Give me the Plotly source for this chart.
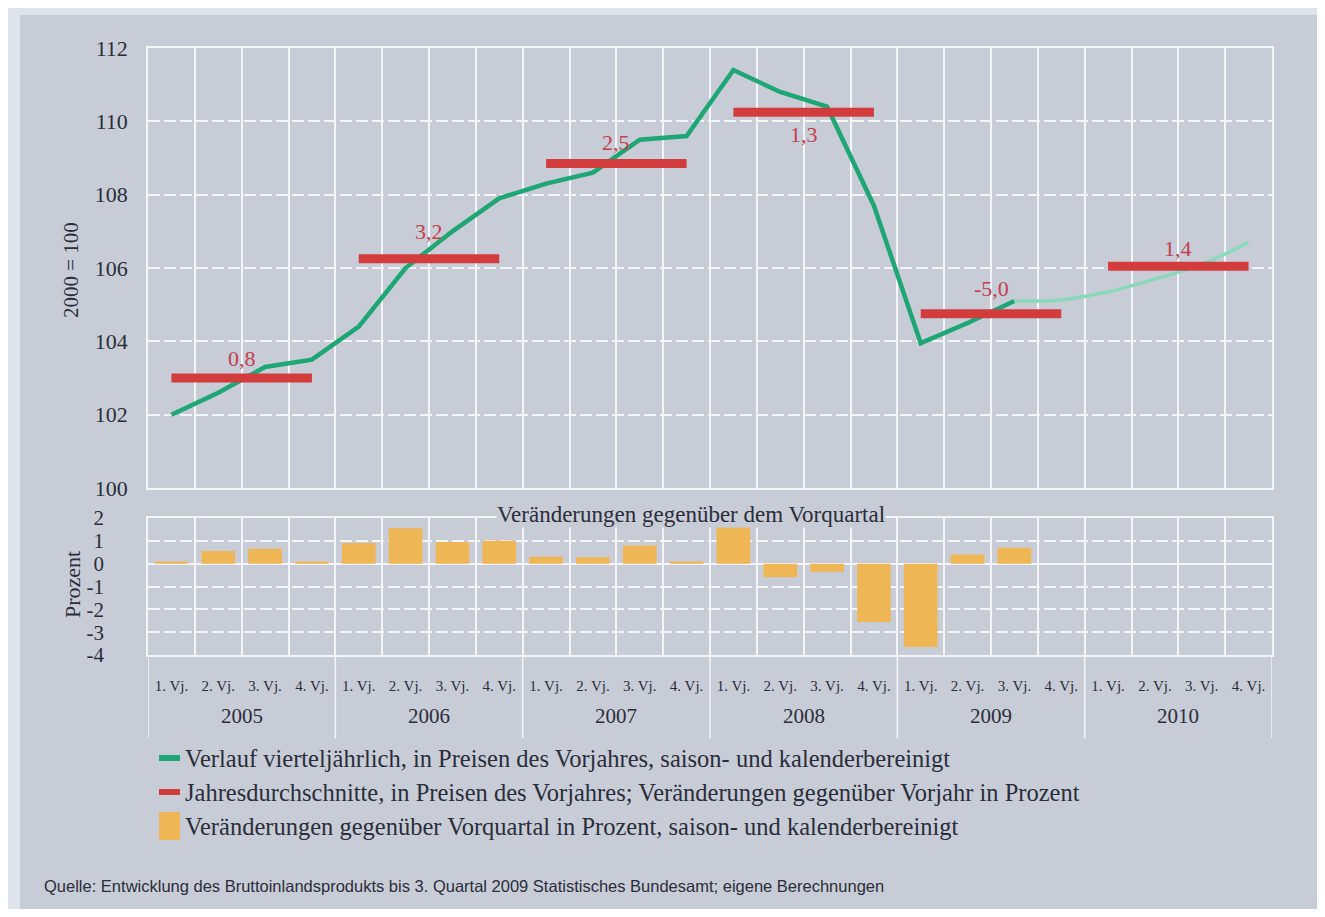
import plotly.graph_objects as go

# ── Daten ─────────────────────────────────────────────────────────
YEARS = ["2005", "2006", "2007", "2008", "2009", "2010"]
QUARTERS = ["1. Vj.", "2. Vj.", "3. Vj.", "4. Vj."] * 6

# BIP-Index (2000 = 100), 1. Vj. 2005 bis 3. Vj. 2009
gdp_index = [102.0, 102.6, 103.3, 103.5,
             104.4, 106.0, 107.0, 107.9,
             108.3, 108.6, 109.5, 109.6,
             111.4, 110.8, 110.4, 107.7,
             103.95, 104.5, 105.1]
# Prognose, 3. Vj. 2009 bis 4. Vj. 2010
gdp_forecast = [105.1, 105.13, 105.35, 105.7, 106.1, 106.7]

# Jahresdurchschnitte (Niveau) und Veränderung gegenüber Vorjahr
annual_level = [103.0, 106.25, 108.85, 110.25, 104.75, 106.05]
annual_change = ["0,8", "3,2", "2,5", "1,3", "-5,0", "1,4"]

# Veränderungen gegenüber Vorquartal in Prozent
qoq_change = [0.1, 0.55, 0.65, 0.1,
              0.9, 1.55, 0.95, 1.0,
              0.3, 0.28, 0.8, 0.1,
              1.6, -0.6, -0.35, -2.55,
              -3.65, 0.4, 0.7]

TOP_TICKS = [100, 102, 104, 106, 108, 110, 112]
BOTTOM_TICKS = [2, 1, 0, -1, -2, -3, -4]
BOTTOM_TICK_TEXT = ["2", "1", "0", "-1", "-2", "-3", "-4"]

LEGEND_TEXT = [
    "Verlauf vierteljährlich, in Preisen des Vorjahres, saison- und kalenderbereinigt",
    "Jahresdurchschnitte, in Preisen des Vorjahres; Veränderungen gegenüber Vorjahr in Prozent",
    "Veränderungen gegenüber Vorquartal in Prozent, saison- und kalenderbereinigt",
]
SOURCE = ("Quelle: Entwicklung des Bruttoinlandsprodukts bis 3. Quartal 2009 "
          "Statistisches Bundesamt; eigene Berechnungen")

# ── Stil ──────────────────────────────────────────────────────────
# Seite hat 8px Body-Rand -> Figur kleiner, Koordinaten um 8px verschoben
OFF = 8
W, H = 1325 - 2 * OFF, 917 - 2 * OFF
PANEL = "#c8ccd7"
GRID = "#f4f5f8"
GREEN = "#1ea673"
GREEN_LIGHT = "#8ad9b8"
RED = "#d23c3c"
RED_TEXT = "#c2404c"
ORANGE = "#efb655"
TEXT = "#2b2d3a"
SERIF = "Liberation Serif, DejaVu Serif, serif"


def px_x(p):
    return (p - OFF) / W


def px_y(p):
    return 1 - (p - OFF) / H


def note(x, y, text, size, xanchor="center", **kw):
    fig.add_annotation(x=px_x(x), y=px_y(y), xref="paper", yref="paper",
                       text=text, showarrow=False, xanchor=xanchor, yanchor="middle",
                       font=dict(family=kw.pop("family", SERIF), size=size, color=TEXT),
                       **kw)


x_dom = [px_x(148), px_x(1272)]
quarter_idx = list(range(len(QUARTERS)))
boundaries = [i - 0.5 for i in range(len(QUARTERS) + 1)]

fig = go.Figure()

# Verlauf vierteljährlich
fig.add_trace(go.Scatter(x=quarter_idx[:len(gdp_index)], y=gdp_index,
                         mode="lines", line=dict(color=GREEN, width=4.5),
                         xaxis="x", yaxis="y", showlegend=False))
fig.add_trace(go.Scatter(x=quarter_idx[len(gdp_index) - 1:], y=gdp_forecast,
                         mode="lines", line=dict(color=GREEN_LIGHT, width=3.5, shape="spline"),
                         xaxis="x", yaxis="y", showlegend=False))

# Jahresdurchschnitte
for k, lvl in enumerate(annual_level):
    fig.add_trace(go.Scatter(x=[4 * k, 4 * k + 3], y=[lvl, lvl], mode="lines",
                             line=dict(color=RED, width=9),
                             xaxis="x", yaxis="y", showlegend=False))

label_shift = [19, 27, 21, -22, 25, 18]
for k, (lvl, txt) in enumerate(zip(annual_level, annual_change)):
    fig.add_annotation(x=4 * k + 1.5, y=lvl, xref="x", yref="y", text=txt,
                       showarrow=False, yshift=label_shift[k],
                       xanchor="center", yanchor="middle",
                       font=dict(family=SERIF, size=22, color=RED_TEXT))

# Veränderungen gegenüber Vorquartal
fig.add_trace(go.Bar(x=quarter_idx[:len(qoq_change)], y=qoq_change,
                     marker=dict(color=ORANGE, line=dict(width=0)), width=0.72,
                     xaxis="x2", yaxis="y2", showlegend=False))

grid = dict(showgrid=True, gridcolor=GRID, gridwidth=1.5)
frame = dict(showline=True, mirror=True, linecolor=GRID, linewidth=1.5, automargin=False)
fig.update_layout(
    width=W, height=H,
    margin=dict(l=0, r=0, t=0, b=0, pad=0),
    paper_bgcolor="white",
    plot_bgcolor="rgba(0,0,0,0)",
    xaxis=dict(domain=x_dom, anchor="y", range=[-0.5, 23.5],
               tickvals=boundaries, showticklabels=False, ticks="",
               zeroline=False, **grid, **frame),
    yaxis=dict(domain=[px_y(488), px_y(48)], anchor="x", range=[100, 112],
               tickvals=TOP_TICKS, griddash="12px,4px", zeroline=False,
               ticks="outside", ticklen=14, tickcolor="rgba(0,0,0,0)",
               tickfont=dict(family=SERIF, size=22, color=TEXT), **grid, **frame),
    xaxis2=dict(domain=x_dom, anchor="y2", range=[-0.5, 23.5], matches="x",
                tickvals=quarter_idx, ticktext=QUARTERS, showgrid=False,
                ticks="outside", ticklen=16, tickcolor="rgba(0,0,0,0)",
                tickfont=dict(family=SERIF, size=15, color=TEXT),
                minor=dict(tickvals=boundaries, showgrid=True,
                           gridcolor=GRID, gridwidth=1.5, ticks=""),
                zeroline=False, **frame),
    yaxis2=dict(domain=[px_y(655), px_y(518)], anchor="x2", range=[-4, 2],
                tickvals=BOTTOM_TICKS, ticktext=BOTTOM_TICK_TEXT,
                griddash="12px,4px",
                zeroline=True, zerolinecolor=GRID, zerolinewidth=1.5,
                ticks="outside", ticklen=38, tickcolor="rgba(0,0,0,0)",
                tickfont=dict(family=SERIF, size=21, color=TEXT), **grid, **frame),
)

# Hintergrund-Panel
fig.add_shape(type="rect", xref="paper", yref="paper", layer="below",
              x0=px_x(8), x1=px_x(1322), y0=px_y(917), y1=px_y(8),
              fillcolor="#dfe3eb", line=dict(width=0))
fig.add_shape(type="rect", xref="paper", yref="paper", layer="below",
              x0=px_x(20), x1=px_x(1320), y0=px_y(913), y1=px_y(15),
              fillcolor=PANEL, line=dict(width=0))

# Jahrestrenner unter der Achse
for b in range(0, 25, 4):
    fig.add_shape(type="line", xref="x2", yref="paper",
                  x0=b - 0.5, x1=b - 0.5, y0=px_y(655), y1=px_y(738),
                  line=dict(color=GRID, width=1.5))
for k, yr in enumerate(YEARS):
    fig.add_annotation(x=4 * k + 1.5, y=px_y(716), xref="x2", yref="paper",
                       text=yr, showarrow=False, xanchor="center", yanchor="middle",
                       font=dict(family=SERIF, size=21, color=TEXT))

# Achsentitel
note(71, 270, "2000 = 100", 21, textangle=-90)
note(72, 585, "Prozent", 22, textangle=-90)

# Titel der unteren Grafik
note(691, 515, "Veränderungen gegenüber dem Vorquartal", 23, bgcolor=PANEL, borderpad=0)

# Legende (von Hand)
leg_y = [758, 792, 826]
fig.add_shape(type="line", xref="paper", yref="paper",
              x0=px_x(159), x1=px_x(180), y0=px_y(758), y1=px_y(758),
              line=dict(color=GREEN, width=6))
fig.add_shape(type="line", xref="paper", yref="paper",
              x0=px_x(159), x1=px_x(180), y0=px_y(792), y1=px_y(792),
              line=dict(color=RED, width=6))
fig.add_shape(type="rect", xref="paper", yref="paper",
              x0=px_x(159), x1=px_x(180), y0=px_y(840), y1=px_y(812),
              fillcolor=ORANGE, line=dict(width=0))
for txt, yy in zip(LEGEND_TEXT, leg_y):
    note(183, yy, txt, 24.5, xanchor="left")

note(42, 886, SOURCE, 16.5, xanchor="left",
     family="Liberation Sans Narrow, Liberation Sans, sans-serif")

fig.write_html("out.html")
